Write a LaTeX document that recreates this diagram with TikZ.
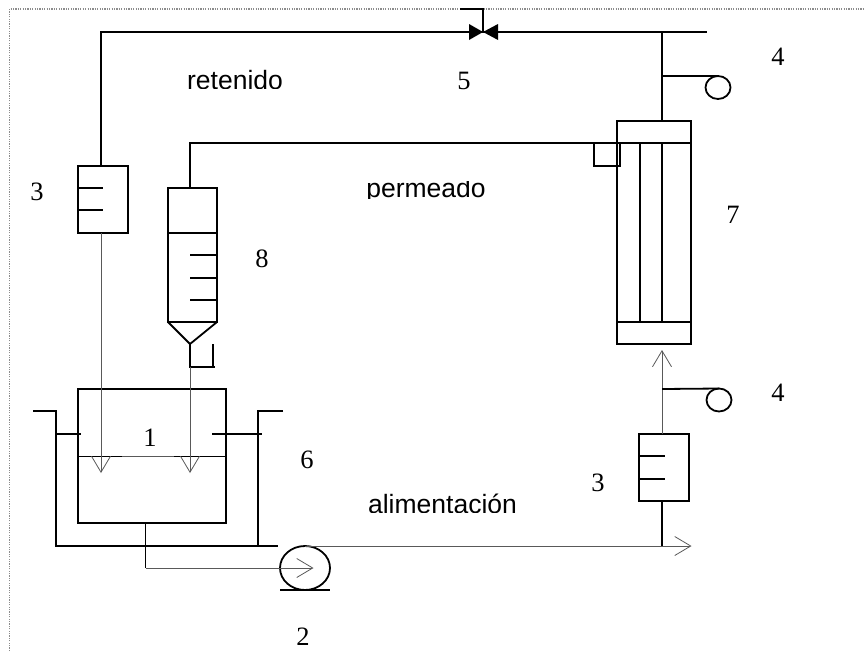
\documentclass[tikz,border=0pt]{standalone}
\usepackage{fontspec}
\setmainfont{Liberation Serif}
\setsansfont{Liberation Sans}
\usetikzlibrary{arrows.meta,shapes.geometric}

\begin{document}
\begin{tikzpicture}[
  x=1pt, y=-1pt,
  font=\fontsize{26.5}{30}\selectfont,
  pipe/.style={line width=1.8pt, black},
  thin pipe/.style={line width=0.9pt, black!65},
  box/.style={draw=black, line width=1.8pt, rectangle, inner sep=0pt, outer sep=0pt},
  gauge/.style={draw=black, line width=1.8pt, ellipse, inner sep=0pt, outer sep=0pt, minimum width=25pt, minimum height=23pt},
  arr/.style={-{Straight Barb[length=16pt, width=19pt, line width=0.8pt]}, thin pipe},
  lab/.style={inner sep=0pt},
  word/.style={inner sep=0pt, font=\fontsize{26.5}{30}\selectfont\sffamily}
]
\useasboundingbox (0,0) rectangle (864,651);
\draw[black!45, line width=1.2pt, dash pattern=on 1.2pt off 1.2pt] (9.5,651) -- (9.5,9) -- (864,9);

% rotameters
\node[box, minimum width=50pt, minimum height=67pt] (rotL) at (103,199.5) {};
\node[box, minimum width=50pt, minimum height=67pt] (rotR) at (664,467.5) {};
\draw[pipe] (rotL.west |- 0,188) -- (103,188) (rotL.west |- 0,210) -- (103,210);
\draw[pipe] (rotR.west |- 0,456) -- (665,456) (rotR.west |- 0,479) -- (665,479);

% collector
\node[box, minimum width=49pt, minimum height=134pt] (coll) at (192.5,255) {};
\draw[pipe] (coll.west |- 0,233) -- (coll.east |- 0,233);
\foreach \yy in {255,278,300} \draw[pipe] (190,\yy) -- (coll.east |- 0,\yy);
\coordinate (tip) at (190,344);
\draw[pipe] (coll.south west) -- (tip) -- (coll.south east);
\coordinate (drain) at (190,367);
\draw[pipe] (tip) -- (drain) -- (215,367) (213,344) -- (213,367);

% membrane module
\node[box, minimum width=74pt, minimum height=22pt] (head) at (654,132) {};
\node[box, minimum width=74pt, minimum height=22pt] (foot) at (654,333) {};
\draw[pipe] (head.south west) -- (foot.north west) (head.south east) -- (foot.north east);
\draw[pipe] (640,143) -- (640,322) (662,143) -- (662,322);
\node[box, minimum width=26pt, minimum height=23pt] (port) at (607,154.5) {};

% tank and jacket
\node[box, minimum width=148pt, minimum height=134pt] (tank) at (152,456) {};
\draw[pipe] (33,411) -- (56,411) -- (56,546) -- (278,546) (283,411) -- (258,411) -- (258,546);
\draw[pipe] (56,434) -- (81,434) (212,434) -- (262,434);
\draw[pipe] (78,456.5) -- (122,456.5) (174,456.5) -- (226,456.5);
\draw[thin pipe] (122,456.5) -- (174,456.5);

% pump
\node[draw=black, line width=1.8pt, ellipse, inner sep=0pt, outer sep=0pt, minimum width=50pt, minimum height=44pt] (pump) at (305,568) {};
\draw[pipe] (280,590) -- (330,590);
\coordinate (bend) at (145.5,568);
\draw[pipe] (tank.south -| bend) -- (bend);
\draw[thin pipe] (bend) -- (pump.west);
\draw[arr] (pump.west) -- (313.5,568);
\coordinate (feed) at (691.5,546);
\draw[arr] (pump.north) -- (feed);

% valve and pipes
\coordinate (valve) at (483,32);
\draw[pipe] (rotL.north -| 101,0) -- (101,32) -- (707,32);
\fill[black] (valve) -- ++(-14,-8) -- ++(0,16) -- cycle (valve) -- ++(15,-8) -- ++(0,16) -- cycle;
\draw[pipe] (valve) -- (483,9) -- (460,9);
\draw[pipe] (662,32) -- (head.north -| 662,0);
\draw[pipe] (coll.north -| 190,0) -- (190,143) -- (head.south west);
\draw[pipe] (rotR.south -| 662,0) -- (662,546);
\draw[arr] (rotR.north -| 662,0) -- (662,350);
\draw[arr] (rotL.south -| 101,0) -- (101,473);
\draw[arr] (drain) -- (190,473);

% gauges
\node[gauge] (gaugeT) at (718,87.5) {};
\node[gauge] (gaugeB) at (719,400) {};
\draw[pipe] (662,76) -- (gaugeT.north);
\draw[pipe] (662,389) -- (gaugeB.north);

% labels
\node[lab] (n1) at (150,438) {1};
\node[lab] (n2) at (303,636.5) {2};
\node[lab] (n3a) at (37,192) {3};
\node[lab] (n3b) at (598,483) {3};
\node[lab] (n4a) at (778,57) {4};
\node[lab] (n4b) at (778,393) {4};
\node[lab] (n5) at (464,81) {5};
\node[lab] (n6) at (307,460) {6};
\node[lab] (n7) at (733,215) {7};
\node[lab] (n8) at (262,259) {8};
\begin{scope}
\clip (170,60) rectangle (300,88.5);
\node[word] (ret) at (235,80.5) {retenido};
\end{scope}
\begin{scope}
\clip (350,181.5) rectangle (500,198.5);
\node[word] (per) at (426,191) {permeado};
\end{scope}
\begin{scope}
\clip (350,480) rectangle (530,512);
\node[word] (ali) at (442.5,504) {alimentación};
\end{scope}
\end{tikzpicture}
\end{document}
